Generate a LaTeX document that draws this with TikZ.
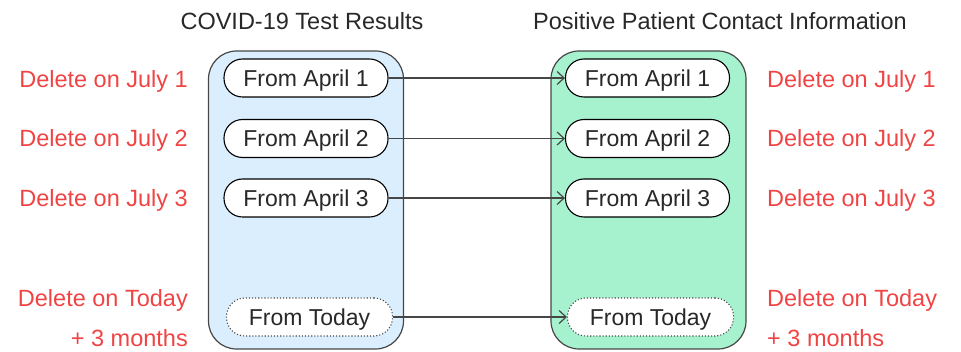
\documentclass[tikz,border=0pt]{standalone}
\usepackage{fontspec}
\setmainfont{Liberation Sans}
\usetikzlibrary{arrows.meta}
\definecolor{boxblue}{RGB}{218,238,253}
\definecolor{boxgreen}{RGB}{166,241,206}
\definecolor{delred}{RGB}{240,68,68}
\definecolor{ink}{RGB}{40,40,40}
\definecolor{linegray}{RGB}{70,70,70}
\tikzset{
  container/.style={draw=linegray, line width=1.2pt, rounded corners=28pt, minimum width=195pt, minimum height=298pt, inner sep=0pt},
  pill/.style={draw=black, line width=1.1pt, fill=white, rounded corners=18.5pt, minimum width=164pt, minimum height=38pt, inner sep=0pt, text height=16.5pt, text depth=0pt, font=\fontsize{23}{26}\selectfont, text=ink},
  dotpill/.style={pill, dotted, draw=linegray, minimum width=166pt},
  title/.style={font=\fontsize{23.5}{26}\selectfont, text=ink, anchor=base, inner sep=0pt},
  dellabel/.style={font=\fontsize{23.5}{26}\selectfont, text=delred, inner sep=0pt},
  link/.style={draw=linegray, line width=1.2pt, -{Straight Barb[length=7pt,width=13pt,line width=1.2pt]}}
}
\begin{document}
\begin{tikzpicture}[x=1pt,y=-1pt]
\useasboundingbox (0,0) rectangle (961,352);
% titles
\node[title] (t1) at (302,30) {COVID-19 Test Results};
\node[title] (t2) at (720,30) {Positive Patient Contact Information};
% containers
\node[container, fill=boxblue] (lbox) at (306,200) {};
\node[container, fill=boxgreen] (rbox) at (648.5,200) {};
% left pills
\node[pill] (l1) at (306,78) {From April 1};
\node[pill] (l2) at (306,138.5) {From April 2};
\node[pill] (l3) at (306,198) {From April 3};
\node[dotpill] (l4) at (309.5,317) {From Today};
% right pills
\node[pill] (r1) at (647.5,78) {From April 1};
\node[pill] (r2) at (647.5,138.5) {From April 2};
\node[pill] (r3) at (647.5,198) {From April 3};
\node[dotpill] (r4) at (650.5,317) {From Today};
% arrows
\draw[link] (l1.east) -- (r1.west);
\draw[link] (l2.east) -- (r2.west);
\draw[link] (l3.east) -- (r3.west);
\draw[link] (l4.east) -- (r4.west);
% left labels
\node[dellabel, anchor=base east] (dl1) at (188,88) {Delete on July 1};
\node[dellabel, anchor=base east] (dl2) at (188,147) {Delete on July 2};
\node[dellabel, anchor=base east] (dl3) at (188,207) {Delete on July 3};
\node[dellabel, anchor=base east] (dl4) at (188,307) {Delete on Today};
\node[dellabel, anchor=base east] (dl5) at (188,347) {+ 3 months};
% right labels
\node[dellabel, anchor=base west] (dr1) at (767,88) {Delete on July 1};
\node[dellabel, anchor=base west] (dr2) at (767,147) {Delete on July 2};
\node[dellabel, anchor=base west] (dr3) at (767,207) {Delete on July 3};
\node[dellabel, anchor=base west] (dr4) at (767,307) {Delete on Today};
\node[dellabel, anchor=base west] (dr5) at (767,347) {+ 3 months};
\end{tikzpicture}
\end{document}
